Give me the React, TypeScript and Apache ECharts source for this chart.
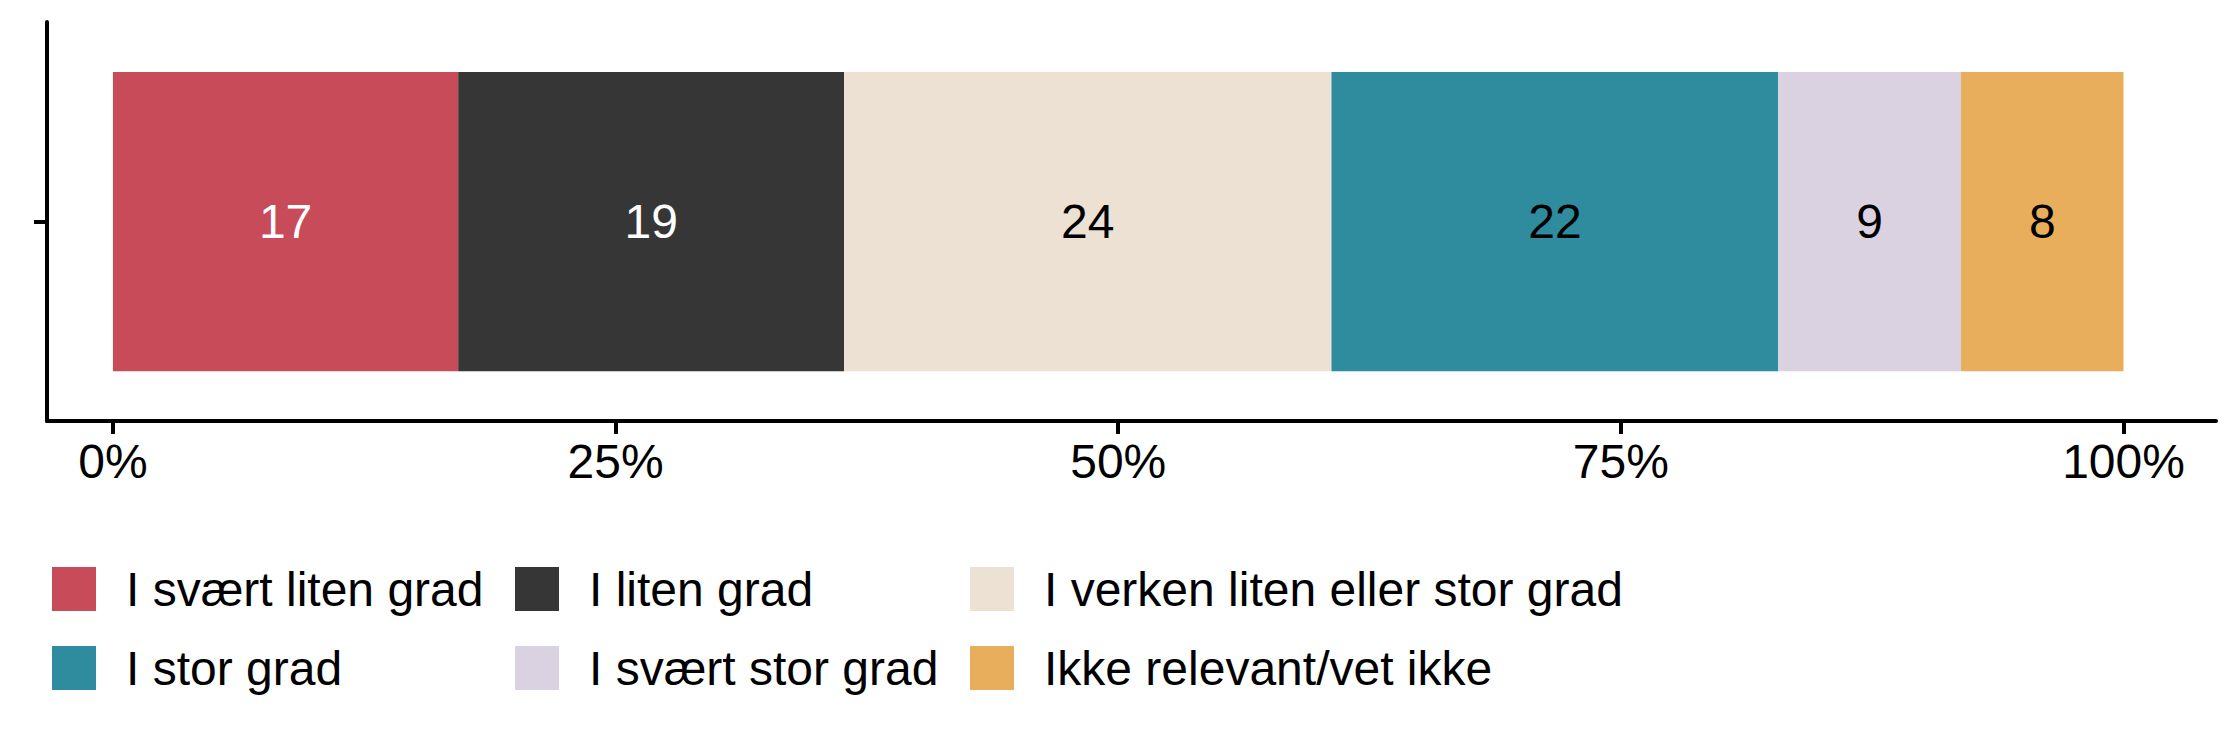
import React, { useEffect, useRef } from "react";
import * as echarts from "echarts";

const categories = [""];
const seriesNames = [
  "I svært liten grad",
  "I liten grad",
  "I verken liten eller stor grad",
  "I stor grad",
  "I svært stor grad",
  "Ikke relevant/vet ikke",
];
const seriesValues = [17, 19, 24, 22, 9, 8];
const seriesColors = ["#C84B5A", "#363636", "#ECE1D2", "#2E8C9E", "#DAD2E0", "#E8AE5B"];
const labelColors = ["#FFFFFF", "#FFFFFF", "#000000", "#000000", "#000000", "#000000"];
const tickValues = [0, 25, 50, 75, 100];
const legendColumns = [
  [0, 3],
  [1, 4],
  [2, 5],
];

const FONT = "Liberation Sans, Arial, Helvetica, sans-serif";

export default function App() {
  const ref = useRef<HTMLDivElement>(null);
  useEffect(() => {
    document.body.style.margin = "0";
    const chart = echarts.init(ref.current!, null, { renderer: "svg" });
    const total = seriesValues.reduce((a, b) => a + b, 0);
    const legendLefts = [52, 515, 970];
    const option: any = {
      animation: false,
      textStyle: { fontFamily: FONT },
      grid: {
        left: 47,
        right: 24,
        top: 22,
        bottom: 315,
        containLabel: false,
        outerBoundsMode: "none",
      },
      xAxis: {
        type: "value",
        min: -3.28,
        max: 104.6,
        splitLine: { show: false },
        axisLine: { show: true, onZero: false, lineStyle: { color: "#000", width: 4 } },
        axisTick: {
          show: true,
          length: 13,
          lineStyle: { color: "#000", width: 4 },
          customValues: tickValues,
        },
        axisLabel: {
          customValues: tickValues,
          formatter: (v: number) => v + "%",
          fontSize: 48,
          color: "#000",
          fontFamily: FONT,
          margin: 16,
        },
      },
      yAxis: {
        type: "category",
        data: categories,
        axisLine: { show: true, onZero: false, lineStyle: { color: "#000", width: 4 } },
        axisTick: { show: true, length: 13, alignWithLabel: true, lineStyle: { color: "#000", width: 4 } },
        axisLabel: { show: false },
        splitLine: { show: false },
      },
      legend: legendColumns.map((col, i) => ({
        show: true,
        orient: "vertical",
        left: legendLefts[i],
        top: 565,
        itemWidth: 44,
        itemHeight: 44,
        itemGap: 31,
        icon: "rect",
        selectedMode: false,
        padding: 0,
        data: col.map((k) => seriesNames[k]),
        textStyle: {
          fontSize: 48,
          lineHeight: 44,
          color: "#000",
          fontFamily: FONT,
          padding: [0, 0, 0, 25],
        },
      })),
      series: seriesNames.map((name, i) => ({
        name,
        type: "bar",
        stack: "total",
        barWidth: "75%",
        itemStyle: { color: seriesColors[i] },
        label: {
          show: true,
          position: "inside",
          formatter: () => String(seriesValues[i]),
          fontSize: 48,
          color: labelColors[i],
          fontFamily: FONT,
        },
        data: categories.map(() => (seriesValues[i] / total) * 100),
      })),
    };
    chart.setOption(option);
    return () => chart.dispose();
  }, []);
  return <div ref={ref} style={{ width: 2240, height: 736 }} />;
}
